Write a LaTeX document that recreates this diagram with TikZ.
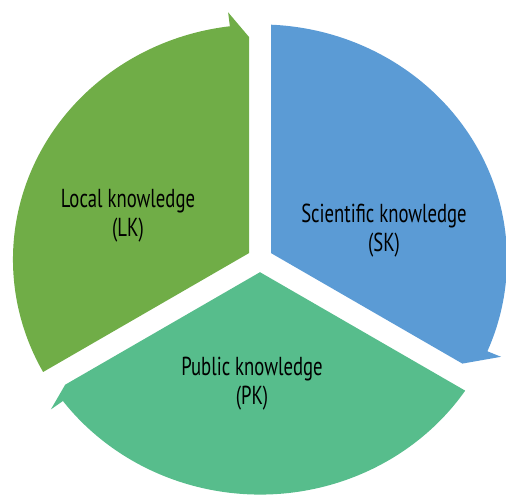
\documentclass[tikz,border=0pt]{standalone}
\usepackage{fontspec}
\setmainfont{PT Sans}[FakeStretch=0.72]
\usepackage{tikz}
\definecolor{CycleGreen}{HTML}{70AD47}
\definecolor{CycleBlue}{HTML}{5B9BD5}
\definecolor{CycleTeal}{HTML}{57BD8C}

\begin{document}
\begin{tikzpicture}[x=1pt,y=1pt,
  every node/.style={font=\fontsize{26}{29}\selectfont,align=center,text=black},
  segment/.style={draw=none},
  rim/.style={x radius=247,y radius=235}
]
  \useasboundingbox (0,0) rectangle (506,495);
  \coordinate (ctr) at (260,235.5);

  % three arrow segments of the cycle
  \fill[segment,CycleGreen] (249,241.9) -- (43.1,123.0)
    arc[start angle=208.6,end angle=97,rim] -- (228.1,482.7) -- (249,458) -- cycle;
  \fill[segment,CycleBlue] (271,241.9) -- (271,470.3)
    arc[start angle=87.45,end angle=-23,rim] -- (501,138.2) -- (462.4,131.4) -- cycle;
  \fill[segment,CycleTeal] (260,222.8) -- (465.2,104.35)
    arc[start angle=-33.9,end angle=-143,rim] -- (50.9,85.6) -- (65.2,110.3) -- cycle;

  \node (lk) at (128,279) {Local knowledge\\(LK)};
  \node (sk) at (384,264) {Scientific knowledge\\(SK)};
  \node (pk) at (252,111) {Public knowledge\\(PK)};
\end{tikzpicture}
\end{document}
